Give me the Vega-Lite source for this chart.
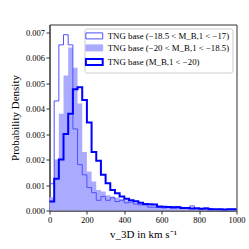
{
  "$schema": "https://vega.github.io/schema/vega-lite/v6.json",
  "width": 187,
  "height": 186,
  "autosize": "none",
  "padding": {"left": 49.5, "top": 24.5, "right": 12.5, "bottom": 38.5},
  "background": "white",
  "datasets": {
    "h": [
      {"s":"a","v":0,"d":0.00105},{"s":"a","v":25,"d":0.0043},{"s":"a","v":50,"d":0.0065},{"s":"a","v":75,"d":0.0069},{"s":"a","v":100,"d":0.0065},
      {"s":"a","v":125,"d":0.0032},{"s":"a","v":150,"d":0.0018},{"s":"a","v":175,"d":0.0014},{"s":"a","v":200,"d":0.0009},{"s":"a","v":225,"d":0.0007},
      {"s":"a","v":250,"d":0.0004},{"s":"a","v":275,"d":0.00055},{"s":"a","v":300,"d":0.0004},{"s":"a","v":325,"d":0.0005},{"s":"a","v":350,"d":0.00035},
      {"s":"a","v":375,"d":0.0004},{"s":"a","v":400,"d":0.0003},{"s":"a","v":425,"d":0.00033},{"s":"a","v":450,"d":0.00025},{"s":"a","v":475,"d":0.00022},
      {"s":"a","v":500,"d":0.00022},{"s":"a","v":525,"d":0.00013},{"s":"a","v":550,"d":0.00013},{"s":"a","v":575,"d":0.00012},{"s":"a","v":600,"d":0.0001},
      {"s":"a","v":625,"d":0.00012},{"s":"a","v":650,"d":0.00016},{"s":"a","v":675,"d":0.00016},{"s":"a","v":700,"d":0.00012},{"s":"a","v":725,"d":0.00008},
      {"s":"a","v":750,"d":0.00018},{"s":"a","v":775,"d":0.00007},{"s":"a","v":800,"d":0.00006},{"s":"a","v":825,"d":0.0001},{"s":"a","v":850,"d":0.00008},
      {"s":"a","v":875,"d":0.00004},{"s":"a","v":900,"d":0.00005},{"s":"a","v":925,"d":0.00004},{"s":"a","v":950,"d":0.00005},{"s":"a","v":975,"d":0.00005},
      {"s":"a","v":1000,"d":0.00005},
      {"s":"b","v":0,"d":0.00052},{"s":"b","v":25,"d":0.002},{"s":"b","v":50,"d":0.0038},{"s":"b","v":75,"d":0.0053},{"s":"b","v":100,"d":0.0064},
      {"s":"b","v":125,"d":0.0056},{"s":"b","v":150,"d":0.0042},{"s":"b","v":175,"d":0.0023},{"s":"b","v":200,"d":0.00153},{"s":"b","v":225,"d":0.00114},
      {"s":"b","v":250,"d":0.0008},{"s":"b","v":275,"d":0.00075},{"s":"b","v":300,"d":0.0006},{"s":"b","v":325,"d":0.00055},{"s":"b","v":350,"d":0.0005},
      {"s":"b","v":375,"d":0.00045},{"s":"b","v":400,"d":0.0004},{"s":"b","v":425,"d":0.00035},{"s":"b","v":450,"d":0.0003},{"s":"b","v":475,"d":0.00028},
      {"s":"b","v":500,"d":0.00025},{"s":"b","v":525,"d":0.00022},{"s":"b","v":550,"d":0.0002},{"s":"b","v":575,"d":0.00018},{"s":"b","v":600,"d":0.00016},
      {"s":"b","v":625,"d":0.00015},{"s":"b","v":650,"d":0.00014},{"s":"b","v":675,"d":0.00012},{"s":"b","v":700,"d":0.00012},{"s":"b","v":725,"d":0.0001},
      {"s":"b","v":750,"d":0.0001},{"s":"b","v":775,"d":0.00009},{"s":"b","v":800,"d":0.00008},{"s":"b","v":825,"d":0.00007},{"s":"b","v":850,"d":0.00007},
      {"s":"b","v":875,"d":0.00006},{"s":"b","v":900,"d":0.00006},{"s":"b","v":925,"d":0.00005},{"s":"b","v":950,"d":0.00005},{"s":"b","v":975,"d":0.00004},
      {"s":"b","v":1000,"d":0.00004},
      {"s":"c","v":0,"d":0.00035},{"s":"c","v":25,"d":0.00125},{"s":"c","v":50,"d":0.002},{"s":"c","v":75,"d":0.003},{"s":"c","v":100,"d":0.0038},
      {"s":"c","v":125,"d":0.00476},{"s":"c","v":150,"d":0.00484},{"s":"c","v":175,"d":0.00434},{"s":"c","v":200,"d":0.00345},{"s":"c","v":225,"d":0.0023},
      {"s":"c","v":250,"d":0.00195},{"s":"c","v":275,"d":0.0014},{"s":"c","v":300,"d":0.00107},{"s":"c","v":325,"d":0.0008},{"s":"c","v":350,"d":0.00068},
      {"s":"c","v":375,"d":0.00055},{"s":"c","v":400,"d":0.00046},{"s":"c","v":425,"d":0.0004},{"s":"c","v":450,"d":0.00036},{"s":"c","v":475,"d":0.0003},
      {"s":"c","v":500,"d":0.00026},{"s":"c","v":525,"d":0.00025},{"s":"c","v":550,"d":0.00024},{"s":"c","v":575,"d":0.00016},{"s":"c","v":600,"d":0.00015},
      {"s":"c","v":625,"d":0.00014},{"s":"c","v":650,"d":0.00012},{"s":"c","v":675,"d":0.00013},{"s":"c","v":700,"d":0.0001},{"s":"c","v":725,"d":0.0001},
      {"s":"c","v":750,"d":0.00008},{"s":"c","v":775,"d":0.00009},{"s":"c","v":800,"d":0.00007},{"s":"c","v":825,"d":0.00008},{"s":"c","v":850,"d":0.00005},
      {"s":"c","v":875,"d":0.00005},{"s":"c","v":900,"d":0.00005},{"s":"c","v":925,"d":0.00004},{"s":"c","v":950,"d":0.00005},{"s":"c","v":975,"d":0.00005},
      {"s":"c","v":1000,"d":0.00005}
    ]
  },
  "data": {"name": "h"},
  "encoding": {
    "x": {
      "field": "v", "type": "quantitative",
      "scale": {"domain": [0, 1000], "nice": false},
      "axis": {"values": [0, 200, 400, 600, 800, 1000], "format": "d", "labelFlush": false, "titlePadding": 4},
      "title": "v_3D in km s⁻¹"
    },
    "y": {
      "field": "d", "type": "quantitative",
      "scale": {"domain": [0, 0.0073], "nice": false},
      "axis": {"values": [0, 0.001, 0.002, 0.003, 0.004, 0.005, 0.006, 0.007], "format": ".3f", "labelFlush": false, "titlePadding": 5},
      "title": "Probability Density"
    }
  },
  "layer": [
    {
      "transform": [{"filter": "datum.s == 'b'"}],
      "mark": {"type": "area", "interpolate": "step-after", "fill": "#aaaaff"}
    },
    {
      "transform": [{"filter": "datum.s == 'a'"}],
      "mark": {"type": "line", "interpolate": "step-after", "strokeWidth": 1, "strokeJoin": "miter"},
      "encoding": {
        "stroke": {
          "field": "s", "type": "nominal",
          "scale": {"domain": ["a", "b", "c"], "range": ["#5050ff", "#aaaaff", "#0000ff"]},
          "legend": {
            "title": null,
            "orient": "top-right",
            "offset": 4,
            "padding": 3,
            "fillColor": "rgba(255,255,255,0.8)",
            "strokeColor": "#cccccc",
            "cornerRadius": 2,
            "symbolType": "M-1.4,-0.5H1.4V0.5H-1.4Z",
            "symbolSize": 144,
            "symbolOffset": 2.4,
            "labelOffset": 9,
            "rowPadding": 1,
            "labelFont": "Liberation Serif",
            "labelFontSize": 8.8,
            "labelColor": "black",
            "labelLimit": 200,
            "labelExpr": "datum.value == 'a' ? 'TNG base (−18.5 < M_B,1 < −17)' : datum.value == 'b' ? 'TNG base (−20 < M_B,1 < −18.5)' : 'TNG base (M_B,1 < −20)'",
            "encode": {
              "symbols": {
                "update": {
                  "fill": {"signal": "datum.value == 'b' ? '#aaaaff' : 'white'"},
                  "stroke": {"signal": "datum.value == 'a' ? '#5050ff' : datum.value == 'b' ? '#aaaaff' : '#0000ff'"},
                  "strokeWidth": {"signal": "datum.value == 'c' ? 2 : 1"},
                  "opacity": {"value": 1}
                }
              }
            }
          }
        }
      }
    },
    {
      "transform": [{"filter": "datum.s == 'c'"}],
      "mark": {"type": "line", "interpolate": "step-after", "strokeWidth": 2, "strokeJoin": "miter"},
      "encoding": {
        "stroke": {"field": "s", "type": "nominal"}
      }
    }
  ],
  "config": {
    "view": {"stroke": "#333333", "strokeWidth": 1},
    "axis": {
      "grid": false,
      "labelFont": "Liberation Serif",
      "labelFontSize": 8.5,
      "labelColor": "black",
      "labelPadding": 1.5,
      "titleFont": "Liberation Serif",
      "titleFontSize": 11,
      "titleFontWeight": "normal",
      "titleColor": "black",
      "tickColor": "#333333",
      "tickSize": 3.5,
      "domainColor": "#333333"
    }
  }
}
